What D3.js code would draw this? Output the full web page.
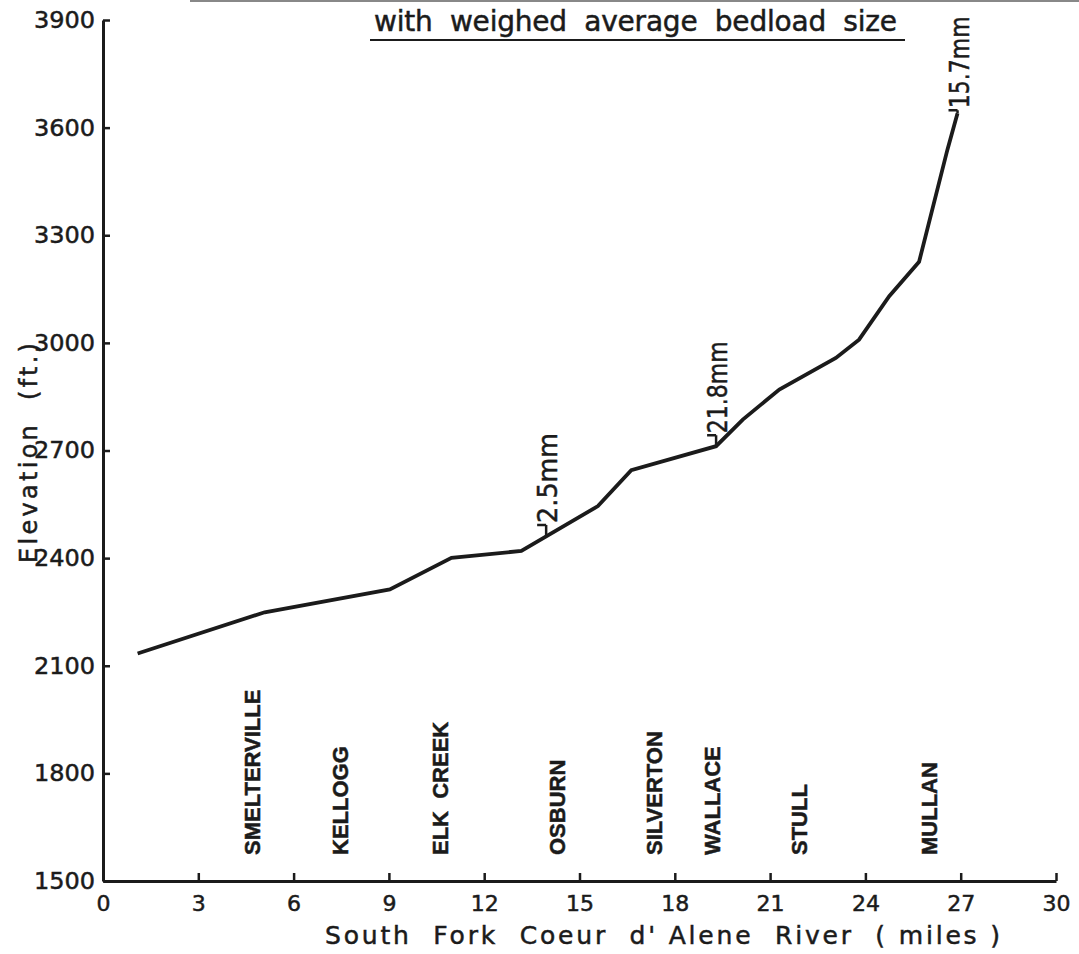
<!DOCTYPE html>
<html>
<head>
<meta charset="utf-8">
<script src="https://cdn.jsdelivr.net/npm/d3@7"></script>
<style>
  body { margin: 0; background: #fff; }
  svg { display: block; }
  text { white-space: pre; }
</style>
</head>
<body>
<div id="chart"></div>
<script>
// river profile
const miles = [1.09, 5.09, 9.03, 10.97, 13.17, 15.58, 16.63, 19.3, 20.14, 21.29, 23.07, 23.8, 24.75, 25.69, 26.58, 26.9];
const elevation = [2134, 2249, 2313, 2401, 2420, 2545, 2645, 2712, 2786, 2870, 2958, 3009, 3130, 3226, 3538, 3640];

// bedload size markers
const sizeLabels = ["2.5mm", "21.8mm", "15.7mm"];
const sizeMiles = [13.95, 19.3, 26.9];
const sizeElev = [2462, 2712, 3640];

// towns along the river
const towns = ["SMELTERVILLE", "KELLOGG", "ELK  CREEK", "OSBURN", "SILVERTON", "WALLACE", "STULL", "MULLAN"];
const townMiles = [4.69, 7.45, 10.6, 14.28, 17.36, 19.18, 21.92, 26.0];

const xTicks = [0, 3, 6, 9, 12, 15, 18, 21, 24, 27, 30];
const yTicks = [1500, 1800, 2100, 2400, 2700, 3000, 3300, 3600, 3900];

const W = 1079, H = 954;
const ink = "#1b1b1b";
const lettering = "DejaVu Sans, Verdana, sans-serif";

const svg = d3.select("#chart").append("svg")
    .attr("width", W)
    .attr("height", H);

svg.append("rect").attr("width", W).attr("height", H).attr("fill", "#fff");

// faint rule left over along the top edge of the scan
svg.append("line")
    .attr("x1", 190).attr("x2", W).attr("y1", 1).attr("y2", 1)
    .attr("stroke", "#888").attr("stroke-width", 2);

const x = d3.scaleLinear().domain([0, 30]).range([103, 1056]);
const y = d3.scaleLinear().domain([1500, 3900]).range([881, 20]);

// hand lettering is a bit heavier than the font
function inked(sel) {
    sel.attr("fill", ink).attr("stroke", ink).attr("stroke-width", 0.5);
}

// x axis
const xAxis = svg.append("g")
    .attr("transform", "translate(0," + y(1500) + ")")
    .call(d3.axisBottom(x).tickValues(xTicks).tickFormat(d3.format("d"))
        .tickSizeInner(-8).tickSizeOuter(0).tickPadding(14));
xAxis.select(".domain").attr("stroke", ink).attr("stroke-width", 3);
xAxis.selectAll(".tick line").attr("stroke", ink).attr("stroke-width", 2.5);
xAxis.selectAll(".tick text")
    .call(inked)
    .attr("font-family", lettering)
    .attr("font-size", 22);

// y axis
const yAxis = svg.append("g")
    .attr("transform", "translate(" + x(0) + ",0)")
    .call(d3.axisLeft(y).tickValues(yTicks).tickFormat(d3.format("d"))
        .tickSizeInner(-7).tickSizeOuter(0).tickPadding(8));
yAxis.select(".domain").attr("stroke", ink).attr("stroke-width", 3);
yAxis.selectAll(".tick line").attr("stroke", ink).attr("stroke-width", 2.5);
yAxis.selectAll(".tick text")
    .call(inked)
    .attr("font-family", lettering)
    .attr("font-size", 23)
    .attr("textLength", 61)
    .attr("lengthAdjust", "spacingAndGlyphs");

// axis titles
svg.append("text")
    .attr("x", 325).attr("y", 944)
    .attr("textLength", 675)
    .attr("lengthAdjust", "spacing")
    .call(inked)
    .attr("font-family", lettering)
    .attr("font-size", 25)
    .text("South  Fork  Coeur  d' Alene  River  ( miles )");

svg.append("text")
    .attr("transform", "translate(37,563) rotate(-90)")
    .attr("textLength", 220)
    .attr("lengthAdjust", "spacing")
    .call(inked)
    .attr("font-family", lettering)
    .attr("font-size", 24)
    .text("Elevation  (ft.)");

// title with underline
svg.append("text")
    .attr("x", 374).attr("y", 31)
    .attr("textLength", 523)
    .attr("lengthAdjust", "spacing")
    .call(inked)
    .attr("font-family", lettering)
    .attr("font-size", 28)
    .text("with  weighed  average  bedload  size");
svg.append("line")
    .attr("x1", 370).attr("x2", 905).attr("y1", 40).attr("y2", 40)
    .attr("stroke", ink).attr("stroke-width", 2);

// profile line
const profile = miles.map((m, i) => [m, elevation[i]]);
svg.append("path")
    .datum(profile)
    .attr("fill", "none")
    .attr("stroke", ink)
    .attr("stroke-width", 3.8)
    .attr("stroke-linejoin", "miter")
    .attr("d", d3.line().x(d => x(d[0])).y(d => y(d[1])));

// bedload markers
sizeLabels.forEach(function (lab, i) {
    const px = x(sizeMiles[i]), py = y(sizeElev[i]);
    const stem = i == 2 ? 3 : 11;
    const g = svg.append("g");
    g.append("path")
        .attr("d", "M" + px + "," + py + "V" + (py - stem) + "M" + (px - 9) + "," + (py - stem) + "H" + px)
        .attr("fill", "none")
        .attr("stroke", ink)
        .attr("stroke-width", 2.5);
    g.append("text")
        .attr("transform", "translate(" + (px + 11) + "," + (py - stem - 2) + ") rotate(-90)")
        .attr("textLength", lab.length > 5 ? 92 : 90)
        .attr("lengthAdjust", "spacingAndGlyphs")
        .call(inked)
        .attr("font-family", lettering)
        .attr("font-size", 26)
        .text(lab);
});

// town names
svg.selectAll(".town")
    .data(towns)
    .enter()
    .append("text")
    .attr("class", "town")
    .attr("transform", (d, i) => "translate(" + (x(townMiles[i]) + 8) + ",855) rotate(-90)")
    .call(inked)
    .attr("font-family", "Liberation Sans, Arial, sans-serif")
    .attr("font-weight", "bold")
    .attr("font-size", 22)
    .text(d => d);
</script>
</body>
</html>
